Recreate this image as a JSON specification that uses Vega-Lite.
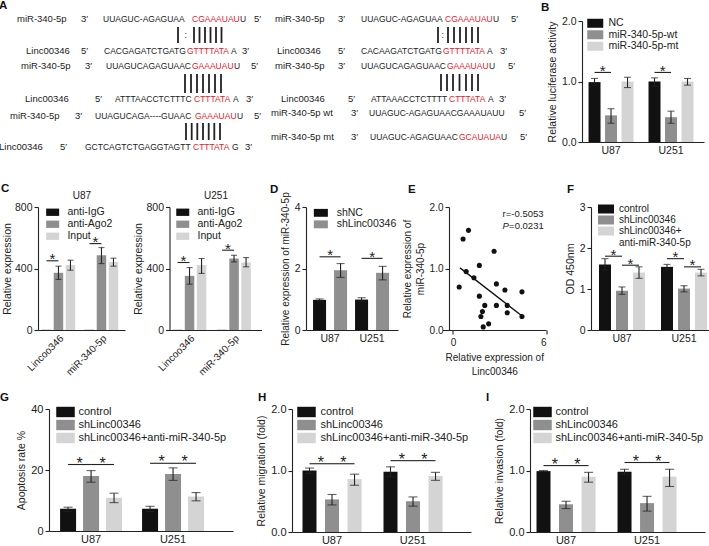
{
"$schema":"https://vega.github.io/schema/vega-lite/v6.json",
"padding":{"left":-2,"top":0,"right":0,"bottom":0},
"background":"white",
"config":{
 "font":"Liberation Sans",
 "view":{"stroke":null},
 "axis":{"labelFont":"Liberation Sans","titleFont":"Liberation Sans","labelFontSize":10.5,"titleFontSize":10.5,"titleFontWeight":"normal","labelColor":"#222222","titleColor":"#222222","domainColor":"#222222","tickColor":"#222222","domainWidth":1.1,"tickWidth":1.1,"tickSize":4,"grid":false,"labelPadding":2,"titlePadding":4,"labelOverlap":false},
 "axisX":{"ticks":false,"labelPadding":3},
 "legend":{"labelFont":"Liberation Sans","labelFontSize":10.5,"labelColor":"#222222","symbolType":"M-1.6,-0.9H1.6V0.9H-1.6Z","symbolStrokeWidth":0,"symbolOpacity":1,"rowPadding":1,"labelOffset":8,"padding":0},
 "title":{"font":"Liberation Sans","fontSize":11.5,"fontWeight":"bold","anchor":"start","frame":"group","color":"#111111","offset":4}
},
"datasets":{
 "aText":[
  {"x":19,"y":19,"t":"miR-340-5p","k":"lab"},{"x":83,"y":19,"t":"3′","k":"lab"},{"x":105,"y":19,"t":"UUAGUC-AGAGUAA","k":"seq"},{"x":194,"y":19,"t":"CGAAAUAU","k":"red"},{"x":242,"y":19,"t":"U","k":"seq"},{"x":256,"y":19,"t":"5′","k":"lab"},
  {"x":28,"y":51,"t":"Linc00346","k":"lab"},{"x":83,"y":51,"t":"5′","k":"lab"},{"x":106,"y":51,"t":"CACGAGATCTGATG","k":"seq"},{"x":189,"y":51,"t":"GTTTTATA","k":"red"},{"x":233,"y":51,"t":"A","k":"seq"},{"x":244,"y":51,"t":"3′","k":"lab"},
  {"x":23,"y":66,"t":"miR-340-5p","k":"lab"},{"x":87,"y":66,"t":"3′","k":"lab"},{"x":108,"y":66,"t":"UUAGUCAGAGUAAC","k":"seq"},{"x":194,"y":66,"t":"GAAAUAU","k":"red"},{"x":236,"y":66,"t":"U","k":"seq"},{"x":253,"y":66,"t":"5′","k":"lab"},
  {"x":27,"y":99,"t":"Linc00346","k":"lab"},{"x":97,"y":99,"t":"5′","k":"lab"},{"x":117,"y":99,"t":"ATTTAACCTCTTTC","k":"seq"},{"x":196,"y":99,"t":"CTTTATA","k":"red"},{"x":235,"y":99,"t":"A","k":"seq"},{"x":248,"y":99,"t":"3′","k":"lab"},
  {"x":12,"y":116,"t":"miR-340-5p","k":"lab"},{"x":77,"y":116,"t":"3′","k":"lab"},{"x":97,"y":116,"t":"UUAGUCAGA----GUAAC","k":"seq"},{"x":197,"y":116,"t":"GAAAUAU","k":"red"},{"x":239,"y":116,"t":"U","k":"seq"},{"x":256,"y":116,"t":"5′","k":"lab"},
  {"x":1,"y":147,"t":"Linc00346","k":"lab"},{"x":62,"y":147,"t":"5′","k":"lab"},{"x":87,"y":147,"t":"GCTCAGTCTGAGGTAGTT","k":"seq"},{"x":195,"y":147,"t":"CTTTATA","k":"red"},{"x":234,"y":147,"t":"G","k":"seq"},{"x":247,"y":147,"t":"3′","k":"lab"},
  {"x":277,"y":19,"t":"miR-340-5p","k":"lab"},{"x":340,"y":19,"t":"3′","k":"lab"},{"x":363,"y":19,"t":"UUAGUC-AGAGUAA","k":"seq"},{"x":447,"y":19,"t":"CGAAAUAU","k":"red"},{"x":495,"y":19,"t":"U","k":"seq"},{"x":513,"y":19,"t":"5′","k":"lab"},
  {"x":279,"y":51,"t":"Linc00346","k":"lab"},{"x":340,"y":51,"t":"5′","k":"lab"},{"x":363,"y":51,"t":"CACAAGATCTGATG","k":"seq"},{"x":445,"y":51,"t":"GTTTTATA","k":"red"},{"x":489,"y":51,"t":"A","k":"seq"},{"x":502,"y":51,"t":"3′","k":"lab"},
  {"x":277,"y":66,"t":"miR-340-5p","k":"lab"},{"x":340,"y":66,"t":"3′","k":"lab"},{"x":363,"y":66,"t":"UUAGUCAGAGUAAC","k":"seq"},{"x":449,"y":66,"t":"GAAAUAU","k":"red"},{"x":491,"y":66,"t":"U","k":"seq"},{"x":510,"y":66,"t":"5′","k":"lab"},
  {"x":283,"y":99,"t":"Linc00346","k":"lab"},{"x":350,"y":99,"t":"5′","k":"lab"},{"x":373,"y":99,"t":"ATTAAACCTCTTTT","k":"seq"},{"x":451,"y":99,"t":"CTTTATA","k":"red"},{"x":490,"y":99,"t":"A","k":"seq"},{"x":501,"y":99,"t":"3′","k":"lab"},
  {"x":273,"y":113,"t":"miR-340-5p wt","k":"lab"},{"x":353,"y":113,"t":"3′","k":"lab"},{"x":371,"y":113,"t":"UUAGUC-AGAGUAACGAAAUAUU","k":"seq"},{"x":521,"y":113,"t":"5′","k":"lab"},
  {"x":273,"y":137,"t":"miR-340-5p mt","k":"lab"},{"x":353,"y":137,"t":"3′","k":"lab"},{"x":372,"y":137,"t":"UUAGUC-AGAGUAAC","k":"seq"},{"x":461,"y":137,"t":"GCAUAUA","k":"red"},{"x":503,"y":137,"t":"U","k":"seq"},{"x":522,"y":137,"t":"5′","k":"lab"},
  {"x":186.5,"y":35,"t":":","k":"seq"},{"x":443.5,"y":35,"t":":","k":"seq"}
 ],
 "aBond":[
  {"x":180,"y1":27,"y2":43},{"x":196,"y1":27,"y2":43},{"x":201.5,"y1":27,"y2":43},{"x":207,"y1":27,"y2":43},{"x":212.5,"y1":27,"y2":43},{"x":218,"y1":27,"y2":43},{"x":223.5,"y1":27,"y2":43},
  {"x":440,"y1":27,"y2":43},{"x":450,"y1":27,"y2":43},{"x":456,"y1":27,"y2":43},{"x":462,"y1":27,"y2":43},{"x":468,"y1":27,"y2":43},{"x":474,"y1":27,"y2":43},{"x":480,"y1":27,"y2":43},
  {"x":187,"y1":74,"y2":93},{"x":193,"y1":74,"y2":93},{"x":199,"y1":74,"y2":93},{"x":205,"y1":74,"y2":93},{"x":211,"y1":74,"y2":93},{"x":217,"y1":74,"y2":93},{"x":223,"y1":74,"y2":93},
  {"x":443,"y1":74,"y2":91},{"x":449,"y1":74,"y2":91},{"x":455,"y1":74,"y2":91},{"x":461.5,"y1":74,"y2":91},{"x":468,"y1":74,"y2":91},{"x":474,"y1":74,"y2":91},{"x":480,"y1":74,"y2":91},
  {"x":188,"y1":123,"y2":140},{"x":193.7,"y1":123,"y2":140},{"x":199.3,"y1":123,"y2":140},{"x":205,"y1":123,"y2":140},{"x":210.7,"y1":123,"y2":140},{"x":216.3,"y1":123,"y2":140},{"x":222,"y1":123,"y2":140}
 ],
 "aLetter":[{"t":"A","x":1,"y":6}],
 "bData":[
  {"cell":"U87","group":"NC","mean":0.99,"lo":0.94,"hi":1.05},
  {"cell":"U87","group":"miR-340-5p-wt","mean":0.44,"lo":0.31,"hi":0.55},
  {"cell":"U87","group":"miR-340-5p-mt","mean":1.0,"lo":0.9,"hi":1.07},
  {"cell":"U251","group":"NC","mean":1.0,"lo":0.92,"hi":1.06},
  {"cell":"U251","group":"miR-340-5p-wt","mean":0.41,"lo":0.31,"hi":0.51},
  {"cell":"U251","group":"miR-340-5p-mt","mean":1.0,"lo":0.94,"hi":1.05}
 ],
 "bSig":[
  {"cell":"U87","group":"NC","b":"1","pos":"s","level":1.15},{"cell":"U87","group":"miR-340-5p-wt","b":"1","pos":"e","level":1.15},
  {"cell":"U251","group":"NC","b":"2","pos":"s","level":1.15},{"cell":"U251","group":"miR-340-5p-wt","b":"2","pos":"e","level":1.15}
 ],
 "cL":[
  {"cell":"Lincoo346","group":"anti-IgG","mean":1,"lo":null,"hi":null},
  {"cell":"Lincoo346","group":"anti-Ago2","mean":372,"lo":329,"hi":415},
  {"cell":"Lincoo346","group":"Input","mean":422,"lo":389,"hi":454},
  {"cell":"miR-340-5p","group":"anti-IgG","mean":1,"lo":null,"hi":null},
  {"cell":"miR-340-5p","group":"anti-Ago2","mean":486,"lo":432,"hi":536},
  {"cell":"miR-340-5p","group":"Input","mean":443,"lo":415,"hi":467}
 ],
 "cLSig":[
  {"cell":"Lincoo346","group":"anti-IgG","b":"1","pos":"s","level":450},{"cell":"Lincoo346","group":"anti-Ago2","b":"1","pos":"e","level":450},
  {"cell":"miR-340-5p","group":"anti-IgG","b":"2","pos":"s","level":562},{"cell":"miR-340-5p","group":"anti-Ago2","b":"2","pos":"e","level":562}
 ],
 "cR":[
  {"cell":"Lincoo346","group":"anti-IgG","mean":1,"lo":null,"hi":null},
  {"cell":"Lincoo346","group":"anti-Ago2","mean":352,"lo":298,"hi":406},
  {"cell":"Lincoo346","group":"Input","mean":422,"lo":368,"hi":465},
  {"cell":"miR-340-5p","group":"anti-IgG","mean":1,"lo":null,"hi":null},
  {"cell":"miR-340-5p","group":"anti-Ago2","mean":465,"lo":443,"hi":486},
  {"cell":"miR-340-5p","group":"Input","mean":439,"lo":411,"hi":471}
 ],
 "cRSig":[
  {"cell":"Lincoo346","group":"anti-IgG","b":"1","pos":"s","level":439},{"cell":"Lincoo346","group":"anti-Ago2","b":"1","pos":"e","level":439},
  {"cell":"miR-340-5p","group":"anti-IgG","b":"2","pos":"s","level":519},{"cell":"miR-340-5p","group":"anti-Ago2","b":"2","pos":"e","level":519}
 ],
 "dData":[
  {"cell":"U87","group":"shNC","mean":0.98,"lo":0.95,"hi":1.01},
  {"cell":"U87","group":"shLinc00346","mean":1.94,"lo":1.71,"hi":2.16},
  {"cell":"U251","group":"shNC","mean":0.99,"lo":0.94,"hi":1.05},
  {"cell":"U251","group":"shLinc00346","mean":1.86,"lo":1.63,"hi":2.07}
 ],
 "dSig":[
  {"cell":"U87","group":"shNC","b":"1","pos":"s","level":2.38},{"cell":"U87","group":"shLinc00346","b":"1","pos":"e","level":2.38},
  {"cell":"U251","group":"shNC","b":"2","pos":"s","level":2.33},{"cell":"U251","group":"shLinc00346","b":"2","pos":"e","level":2.33}
 ],
 "ePts":[
  {"x":0.4,"y":0.7},{"x":0.65,"y":1.48},{"x":1.0,"y":1.62},{"x":0.85,"y":0.95},{"x":1.35,"y":0.85},{"x":1.7,"y":1.05},{"x":1.7,"y":0.55},{"x":2.65,"y":1.28},{"x":2.8,"y":0.75},{"x":2.05,"y":0.4},{"x":2.8,"y":0.4},{"x":3.35,"y":0.65},{"x":3.5,"y":0.4},{"x":4.45,"y":0.62},{"x":1.9,"y":0.3},{"x":3.5,"y":0.28},{"x":4.45,"y":0.22},{"x":1.8,"y":0.22},{"x":2.3,"y":0.1},{"x":1.95,"y":0.05}
 ],
 "eLine":[{"x":0.45,"y":1.01},{"x":4.5,"y":0.22}],
 "eTxt":[{"x":3.2,"y":1.89,"t":"r=-0.5053","s":"n"},{"x":3.62,"y":1.69,"t":"=0.0231","s":"n"},{"x":3.2,"y":1.69,"t":"P","s":"i"}],
 "fData":[
  {"cell":"U87","group":"control","mean":1.6,"lo":1.46,"hi":1.74},
  {"cell":"U87","group":"shLinc00346","mean":0.96,"lo":0.87,"hi":1.05},
  {"cell":"U87","group":"shLinc00346+anti-miR-340-5p","mean":1.4,"lo":1.26,"hi":1.54},
  {"cell":"U251","group":"control","mean":1.54,"lo":1.48,"hi":1.6},
  {"cell":"U251","group":"shLinc00346","mean":1.01,"lo":0.93,"hi":1.08},
  {"cell":"U251","group":"shLinc00346+anti-miR-340-5p","mean":1.4,"lo":1.32,"hi":1.48}
 ],
 "fSig":[
  {"cell":"U87","group":"control","b":"1","pos":"s","level":1.8},{"cell":"U87","group":"shLinc00346","b":"1","pos":"e","level":1.8},
  {"cell":"U87","group":"shLinc00346","b":"2","pos":"s","level":1.58},{"cell":"U87","group":"shLinc00346+anti-miR-340-5p","b":"2","pos":"e","level":1.58},
  {"cell":"U251","group":"control","b":"3","pos":"s","level":1.74},{"cell":"U251","group":"shLinc00346","b":"3","pos":"e","level":1.74},
  {"cell":"U251","group":"shLinc00346","b":"4","pos":"s","level":1.54},{"cell":"U251","group":"shLinc00346+anti-miR-340-5p","b":"4","pos":"e","level":1.54}
 ],
 "gData":[
  {"cell":"U87","group":"control","mean":7.3,"lo":6.5,"hi":7.8},
  {"cell":"U87","group":"shLinc00346","mean":18.0,"lo":16.0,"hi":19.8},
  {"cell":"U87","group":"shLinc00346+anti-miR-340-5p","mean":10.9,"lo":9.3,"hi":12.4},
  {"cell":"U251","group":"control","mean":7.3,"lo":6.4,"hi":8.1},
  {"cell":"U251","group":"shLinc00346","mean":18.7,"lo":16.6,"hi":20.7},
  {"cell":"U251","group":"shLinc00346+anti-miR-340-5p","mean":11.3,"lo":9.9,"hi":12.6}
 ],
 "gSig":[
  {"cell":"U87","group":"control","b":"1","pos":"s","level":21.8},{"cell":"U87","group":"shLinc00346","b":"1","pos":"e","level":21.8},
  {"cell":"U87","group":"shLinc00346","b":"2","pos":"s","level":21.8},{"cell":"U87","group":"shLinc00346+anti-miR-340-5p","b":"2","pos":"e","level":21.8},
  {"cell":"U251","group":"control","b":"3","pos":"s","level":22.2},{"cell":"U251","group":"shLinc00346","b":"3","pos":"e","level":22.2},
  {"cell":"U251","group":"shLinc00346","b":"4","pos":"s","level":22.2},{"cell":"U251","group":"shLinc00346+anti-miR-340-5p","b":"4","pos":"e","level":22.2}
 ],
 "hData":[
  {"cell":"U87","group":"control","mean":1.0,"lo":0.95,"hi":1.04},
  {"cell":"U87","group":"shLinc00346","mean":0.53,"lo":0.44,"hi":0.61},
  {"cell":"U87","group":"shLinc00346+anti-miR-340-5p","mean":0.86,"lo":0.76,"hi":0.94},
  {"cell":"U251","group":"control","mean":0.98,"lo":0.9,"hi":1.06},
  {"cell":"U251","group":"shLinc00346","mean":0.5,"lo":0.42,"hi":0.57},
  {"cell":"U251","group":"shLinc00346+anti-miR-340-5p","mean":0.91,"lo":0.84,"hi":0.97}
 ],
 "hSig":[
  {"cell":"U87","group":"control","b":"1","pos":"s","level":1.11},{"cell":"U87","group":"shLinc00346","b":"1","pos":"e","level":1.11},
  {"cell":"U87","group":"shLinc00346","b":"2","pos":"s","level":1.11},{"cell":"U87","group":"shLinc00346+anti-miR-340-5p","b":"2","pos":"e","level":1.11},
  {"cell":"U251","group":"control","b":"3","pos":"s","level":1.16},{"cell":"U251","group":"shLinc00346","b":"3","pos":"e","level":1.16},
  {"cell":"U251","group":"shLinc00346","b":"4","pos":"s","level":1.16},{"cell":"U251","group":"shLinc00346+anti-miR-340-5p","b":"4","pos":"e","level":1.16}
 ],
 "iData":[
  {"cell":"U87","group":"control","mean":0.99,"lo":0.98,"hi":1.0},
  {"cell":"U87","group":"shLinc00346","mean":0.45,"lo":0.38,"hi":0.5},
  {"cell":"U87","group":"shLinc00346+anti-miR-340-5p","mean":0.9,"lo":0.81,"hi":0.97},
  {"cell":"U251","group":"control","mean":0.98,"lo":0.94,"hi":1.02},
  {"cell":"U251","group":"shLinc00346","mean":0.47,"lo":0.34,"hi":0.58},
  {"cell":"U251","group":"shLinc00346+anti-miR-340-5p","mean":0.9,"lo":0.74,"hi":1.02}
 ],
 "iSig":[
  {"cell":"U87","group":"control","b":"1","pos":"s","level":1.08},{"cell":"U87","group":"shLinc00346","b":"1","pos":"e","level":1.08},
  {"cell":"U87","group":"shLinc00346","b":"2","pos":"s","level":1.08},{"cell":"U87","group":"shLinc00346+anti-miR-340-5p","b":"2","pos":"e","level":1.08},
  {"cell":"U251","group":"control","b":"3","pos":"s","level":1.13},{"cell":"U251","group":"shLinc00346","b":"3","pos":"e","level":1.13},
  {"cell":"U251","group":"shLinc00346","b":"4","pos":"s","level":1.13},{"cell":"U251","group":"shLinc00346+anti-miR-340-5p","b":"4","pos":"e","level":1.13}
 ],
 "spacer":[{"a":1}]
},
"resolve":{"scale":{"color":"independent","xOffset":"independent"},"legend":{"color":"independent"}},
"spacing":26,
"vconcat":[
 {"hconcat":[
  {"width":530,"height":121,
   "layer":[
    {"data":{"name":"aText"},"transform":[{"filter":"datum.k=='lab'"}],
     "mark":{"type":"text","align":"left","baseline":"middle","fontSize":9.5,"color":"#222222"},
     "encoding":{"x":{"field":"x","type":"quantitative","scale":{"domain":[0,530],"nice":false,"zero":false},"axis":null},
                 "y":{"field":"y","type":"quantitative","scale":{"domain":[21,142],"nice":false,"zero":false,"reverse":true},"axis":null},
                 "text":{"field":"t"}}},
    {"data":{"name":"aText"},"transform":[{"filter":"datum.k!='lab'"}],
     "mark":{"type":"text","align":"left","baseline":"middle","fontSize":8.5},
     "encoding":{"x":{"field":"x","type":"quantitative","axis":null},"y":{"field":"y","type":"quantitative","axis":null},"text":{"field":"t"},
                 "color":{"field":"k","type":"nominal","scale":{"domain":["seq","red"],"range":["#222222","#e8202a"]},"legend":null}}},
    {"data":{"name":"aBond"},"mark":{"type":"rule","strokeWidth":1.8,"color":"#222222"},
     "encoding":{"x":{"field":"x","type":"quantitative","axis":null},"y":{"field":"y1","type":"quantitative","axis":null},"y2":{"field":"y2"}}},
    {"data":{"name":"aLetter"},"mark":{"type":"text","align":"left","baseline":"middle","fontSize":11.5,"fontWeight":"bold","color":"#111111"},
     "encoding":{"x":{"field":"x","type":"quantitative","axis":null},"y":{"field":"y","type":"quantitative","axis":null},"text":{"field":"t"}}}
   ]},
  {"width":122,"height":121,
   "title":{"text":"B","dx":-41,"dy":1},
   "layer":[
    {"data":{"name":"bData"},"mark":{"type":"bar"},
     "encoding":{
      "x":{"field":"cell","type":"nominal","scale":{"domain":["U87","U251"],"paddingInner":0.14,"paddingOuter":0.087,"align":0.31},"axis":{"title":null,"labelAngle":0}},
      "xOffset":{"field":"group","type":"nominal","scale":{"domain":["NC","miR-340-5p-wt","miR-340-5p-mt"],"paddingInner":0.273,"paddingOuter":0.2}},
      "y":{"field":"mean","type":"quantitative","scale":{"domain":[0,2],"nice":false,"zero":false},"axis":{"title":"Relative luciferase activity","values":[0,0.5,1,1.5,2],"format":".1f"}},
      "color":{"field":"group","type":"nominal","scale":{"domain":["NC","miR-340-5p-wt","miR-340-5p-mt"],"range":["#111111","#8f8f8f","#d4d4d4"]},"legend":{"title":null,"orient":"none","legendX":8,"legendY":-3,"symbolSize":100,"rowPadding":0.5,"labelOffset":8}}}},
    {"data":{"name":"bData"},"mark":{"type":"rule","color":"#222222","strokeWidth":1.1},
     "encoding":{"x":{"field":"cell","type":"nominal"},"xOffset":{"field":"group","type":"nominal"},"y":{"field":"lo","type":"quantitative"},"y2":{"field":"hi"}}},
    {"data":{"name":"bData"},"mark":{"type":"tick","orient":"horizontal","color":"#222222","thickness":1.1,"size":7},
     "encoding":{"x":{"field":"cell","type":"nominal"},"xOffset":{"field":"group","type":"nominal"},"y":{"field":"lo","type":"quantitative"}}},
    {"data":{"name":"bData"},"mark":{"type":"tick","orient":"horizontal","color":"#222222","thickness":1.1,"size":7},
     "encoding":{"x":{"field":"cell","type":"nominal"},"xOffset":{"field":"group","type":"nominal"},"y":{"field":"hi","type":"quantitative"}}},
    {"data":{"name":"bSig"},"mark":{"type":"line","color":"#222222","strokeWidth":1.1},
     "encoding":{"x":{"field":"cell","type":"nominal"},"xOffset":{"field":"group","type":"nominal"},"y":{"field":"level","type":"quantitative"},"detail":{"field":"b"}}},
    {"data":{"name":"bSig"},"transform":[{"filter":"datum.pos=='s'"}],"mark":{"type":"text","text":"*","fontSize":15,"baseline":"alphabetic","dy":3.5,"dx":8.25,"color":"#222222"},
     "encoding":{"x":{"field":"cell","type":"nominal"},"xOffset":{"field":"group","type":"nominal"},"y":{"field":"level","type":"quantitative"}}}
   ]}
 ],"spacing":54,"bounds":"flush","resolve":{"scale":{"color":"independent","xOffset":"independent"},"legend":{"color":"independent"}}},
 {"vconcat":[
  {"hconcat":[
   {"width":1,"height":1,"data":{"name":"spacer"},"mark":{"type":"text","text":""},"encoding":{}},
   {"hconcat":[
    {"width":87,"height":123,
     "title":{"text":"C","dx":-37,"dy":8},
     "resolve":{"axis":{"x":"independent"}},
     "layer":[
      {"data":{"name":"cL"},"mark":{"type":"bar"},
       "encoding":{
        "x":{"field":"cell","type":"nominal","scale":{"domain":["Lincoo346","miR-340-5p"],"paddingInner":0.165,"paddingOuter":0.094,"align":0.31},"axis":{"title":null,"labelAngle":-45,"labelFontSize":10}},
        "xOffset":{"field":"group","type":"nominal","scale":{"domain":["anti-IgG","anti-Ago2","Input"],"paddingInner":0.21,"paddingOuter":0.1}},
        "y":{"field":"mean","type":"quantitative","scale":{"domain":[0,800],"nice":false,"zero":false},"axis":{"title":"Relative expression","titlePadding":2,"values":[0,200,400,600,800]}},
        "color":{"field":"group","type":"nominal","scale":{"domain":["anti-IgG","anti-Ago2","Input"],"range":["#111111","#8f8f8f","#d4d4d4"]},"legend":{"title":null,"orient":"none","legendX":9.4,"legendY":0,"symbolSize":66,"rowPadding":1,"labelOffset":9.5}}}},
      {"data":{"name":"cL"},"mark":{"type":"rule","color":"#222222","strokeWidth":1.1},
       "encoding":{"x":{"field":"cell","type":"nominal","axis":{"orient":"top","title":"U87","labels":false,"ticks":false,"domain":false,"titlePadding":7,"titleFontSize":10}},"xOffset":{"field":"group","type":"nominal"},"y":{"field":"lo","type":"quantitative"},"y2":{"field":"hi"}}},
      {"data":{"name":"cL"},"mark":{"type":"tick","orient":"horizontal","color":"#222222","thickness":1.1,"size":6},
       "encoding":{"x":{"field":"cell","type":"nominal","axis":null},"xOffset":{"field":"group","type":"nominal"},"y":{"field":"lo","type":"quantitative"}}},
      {"data":{"name":"cL"},"mark":{"type":"tick","orient":"horizontal","color":"#222222","thickness":1.1,"size":6},
       "encoding":{"x":{"field":"cell","type":"nominal","axis":null},"xOffset":{"field":"group","type":"nominal"},"y":{"field":"hi","type":"quantitative"}}},
      {"data":{"name":"cLSig"},"mark":{"type":"line","color":"#222222","strokeWidth":1.1},
       "encoding":{"x":{"field":"cell","type":"nominal","axis":null},"xOffset":{"field":"group","type":"nominal"},"y":{"field":"level","type":"quantitative"},"detail":{"field":"b"}}},
      {"data":{"name":"cLSig"},"transform":[{"filter":"datum.pos=='s'"}],"mark":{"type":"text","text":"*","fontSize":15,"baseline":"alphabetic","dy":3.5,"dx":6,"color":"#222222"},
       "encoding":{"x":{"field":"cell","type":"nominal","axis":null},"xOffset":{"field":"group","type":"nominal"},"y":{"field":"level","type":"quantitative"}}}
     ]},
    {"width":92,"height":123,
     "resolve":{"axis":{"x":"independent"}},
     "layer":[
      {"data":{"name":"cR"},"mark":{"type":"bar"},
       "encoding":{
        "x":{"field":"cell","type":"nominal","scale":{"domain":["Lincoo346","miR-340-5p"],"paddingInner":0.193,"paddingOuter":0.13,"align":0.18},"axis":{"title":null,"labelAngle":-45,"labelFontSize":10}},
        "xOffset":{"field":"group","type":"nominal","scale":{"domain":["anti-IgG","anti-Ago2","Input"],"paddingInner":0.21,"paddingOuter":0.1}},
        "y":{"field":"mean","type":"quantitative","scale":{"domain":[0,800],"nice":false,"zero":false},"axis":{"title":"Relative expression","titlePadding":2,"values":[0,200,400,600,800]}},
        "color":{"field":"group","type":"nominal","scale":{"domain":["anti-IgG","anti-Ago2","Input"],"range":["#111111","#8f8f8f","#d4d4d4"]},"legend":{"title":null,"orient":"none","legendX":8,"legendY":0,"symbolSize":66,"rowPadding":1,"labelOffset":9.5}}}},
      {"data":{"name":"cR"},"mark":{"type":"rule","color":"#222222","strokeWidth":1.1},
       "encoding":{"x":{"field":"cell","type":"nominal","axis":{"orient":"top","title":"U251","labels":false,"ticks":false,"domain":false,"titlePadding":7,"titleFontSize":10}},"xOffset":{"field":"group","type":"nominal"},"y":{"field":"lo","type":"quantitative"},"y2":{"field":"hi"}}},
      {"data":{"name":"cR"},"mark":{"type":"tick","orient":"horizontal","color":"#222222","thickness":1.1,"size":6},
       "encoding":{"x":{"field":"cell","type":"nominal","axis":null},"xOffset":{"field":"group","type":"nominal"},"y":{"field":"lo","type":"quantitative"}}},
      {"data":{"name":"cR"},"mark":{"type":"tick","orient":"horizontal","color":"#222222","thickness":1.1,"size":6},
       "encoding":{"x":{"field":"cell","type":"nominal","axis":null},"xOffset":{"field":"group","type":"nominal"},"y":{"field":"hi","type":"quantitative"}}},
      {"data":{"name":"cRSig"},"mark":{"type":"line","color":"#222222","strokeWidth":1.1},
       "encoding":{"x":{"field":"cell","type":"nominal","axis":null},"xOffset":{"field":"group","type":"nominal"},"y":{"field":"level","type":"quantitative"},"detail":{"field":"b"}}},
      {"data":{"name":"cRSig"},"transform":[{"filter":"datum.pos=='s'"}],"mark":{"type":"text","text":"*","fontSize":15,"baseline":"alphabetic","dy":3.5,"dx":6,"color":"#222222"},
       "encoding":{"x":{"field":"cell","type":"nominal","axis":null},"xOffset":{"field":"group","type":"nominal"},"y":{"field":"level","type":"quantitative"}}}
     ]},
    {"width":92,"height":123,
     "title":{"text":"D","dx":-36,"dy":8},
     "layer":[
      {"data":{"name":"dData"},"mark":{"type":"bar"},
       "encoding":{
        "x":{"field":"cell","type":"nominal","scale":{"domain":["U87","U251"],"paddingInner":0.09,"paddingOuter":0.14,"align":0.42},"axis":{"title":null,"labelAngle":0}},
        "xOffset":{"field":"group","type":"nominal","scale":{"domain":["shNC","shLinc00346"],"paddingInner":0.38,"paddingOuter":0.1}},
        "y":{"field":"mean","type":"quantitative","scale":{"domain":[0,4],"nice":false,"zero":false},"axis":{"title":"Relative expression of miR-340-5p","titleFontSize":10,"values":[0,1,2,3,4]}},
        "color":{"field":"group","type":"nominal","scale":{"domain":["shNC","shLinc00346"],"range":["#111111","#8f8f8f"]},"legend":{"title":null,"orient":"none","legendX":9.6,"legendY":0.6,"symbolSize":77,"rowPadding":0.5,"labelOffset":10.6}}}},
      {"data":{"name":"dData"},"mark":{"type":"rule","color":"#222222","strokeWidth":1.1},
       "encoding":{"x":{"field":"cell","type":"nominal"},"xOffset":{"field":"group","type":"nominal"},"y":{"field":"lo","type":"quantitative"},"y2":{"field":"hi"}}},
      {"data":{"name":"dData"},"mark":{"type":"tick","orient":"horizontal","color":"#222222","thickness":1.1,"size":8},
       "encoding":{"x":{"field":"cell","type":"nominal"},"xOffset":{"field":"group","type":"nominal"},"y":{"field":"lo","type":"quantitative"}}},
      {"data":{"name":"dData"},"mark":{"type":"tick","orient":"horizontal","color":"#222222","thickness":1.1,"size":8},
       "encoding":{"x":{"field":"cell","type":"nominal"},"xOffset":{"field":"group","type":"nominal"},"y":{"field":"hi","type":"quantitative"}}},
      {"data":{"name":"dSig"},"mark":{"type":"line","color":"#222222","strokeWidth":1.1},
       "encoding":{"x":{"field":"cell","type":"nominal"},"xOffset":{"field":"group","type":"nominal"},"y":{"field":"level","type":"quantitative"},"detail":{"field":"b"}}},
      {"data":{"name":"dSig"},"transform":[{"filter":"datum.pos=='s'"}],"mark":{"type":"text","text":"*","fontSize":15,"baseline":"alphabetic","dy":3.5,"dx":10.5,"color":"#222222"},
       "encoding":{"x":{"field":"cell","type":"nominal"},"xOffset":{"field":"group","type":"nominal"},"y":{"field":"level","type":"quantitative"}}}
     ]},
    {"width":103.5,"height":123,
     "title":{"text":"E","dx":-34.5,"dy":-3},
     "layer":[
      {"data":{"name":"ePts"},"mark":{"type":"point","filled":true,"color":"#111111","size":26,"opacity":1},
       "encoding":{
        "x":{"field":"x","type":"quantitative","scale":{"domain":[-0.677,6],"nice":false,"zero":false},"axis":{"values":[0,2,4,6],"ticks":true,"labelFontSize":10,"title":["Relative expression of","Linc00346"],"titleFontSize":10,"titlePadding":5,"titleLineHeight":14}},
        "y":{"field":"y","type":"quantitative","scale":{"domain":[0,2],"nice":false,"zero":false},"axis":{"values":[0,0.5,1,1.5,2],"format":".1f","offset":-6.5,"labelFontSize":10,"title":["Relative expression of","miR-340-5p"],"titleFontSize":10,"titleLineHeight":13}}}},
      {"data":{"name":"eLine"},"mark":{"type":"line","color":"#111111","strokeWidth":1.3},
       "encoding":{"x":{"field":"x","type":"quantitative"},"y":{"field":"y","type":"quantitative"}}},
      {"data":{"name":"eTxt"},"transform":[{"filter":"datum.s=='n'"}],"mark":{"type":"text","align":"left","baseline":"middle","fontSize":9.5,"color":"#222222"},
       "encoding":{"x":{"field":"x","type":"quantitative"},"y":{"field":"y","type":"quantitative"},"text":{"field":"t"}}},
      {"data":{"name":"eTxt"},"transform":[{"filter":"datum.s=='i'"}],"mark":{"type":"text","align":"left","baseline":"middle","fontSize":9.5,"fontStyle":"italic","color":"#222222"},
       "encoding":{"x":{"field":"x","type":"quantitative"},"y":{"field":"y","type":"quantitative"},"text":{"field":"t"}}}
     ]},
    {"width":124,"height":123,
     "title":{"text":"F","dx":-24,"dy":-3},
     "layer":[
      {"data":{"name":"fData"},"mark":{"type":"bar"},
       "encoding":{
        "x":{"field":"cell","type":"nominal","scale":{"domain":["U87","U251"],"paddingInner":0.148,"paddingOuter":0.074,"align":0.5},"axis":{"title":null,"labelAngle":0}},
        "xOffset":{"field":"group","type":"nominal","scale":{"domain":["control","shLinc00346","shLinc00346+anti-miR-340-5p"],"paddingInner":0.294,"paddingOuter":0.2}},
        "y":{"field":"mean","type":"quantitative","scale":{"domain":[0,3],"nice":false,"zero":false},"axis":{"title":"OD 450nm","values":[0,1,2,3]}},
        "color":{"field":"group","type":"nominal","scale":{"domain":["control","shLinc00346","shLinc00346+anti-miR-340-5p"],"range":["#111111","#8f8f8f","#d4d4d4"]},"legend":{"title":null,"orient":"none","legendX":10,"legendY":-3,"symbolSize":100,"rowPadding":1,"labelOffset":8,"labelFontSize":10,"labelExpr":"datum.label == 'shLinc00346+anti-miR-340-5p' ? ['shLinc00346+', 'anti-miR-340-5p'] : datum.label"}}}},
      {"data":{"name":"fData"},"mark":{"type":"rule","color":"#222222","strokeWidth":1.1},
       "encoding":{"x":{"field":"cell","type":"nominal"},"xOffset":{"field":"group","type":"nominal"},"y":{"field":"lo","type":"quantitative"},"y2":{"field":"hi"}}},
      {"data":{"name":"fData"},"mark":{"type":"tick","orient":"horizontal","color":"#222222","thickness":1.1,"size":7},
       "encoding":{"x":{"field":"cell","type":"nominal"},"xOffset":{"field":"group","type":"nominal"},"y":{"field":"lo","type":"quantitative"}}},
      {"data":{"name":"fData"},"mark":{"type":"tick","orient":"horizontal","color":"#222222","thickness":1.1,"size":7},
       "encoding":{"x":{"field":"cell","type":"nominal"},"xOffset":{"field":"group","type":"nominal"},"y":{"field":"hi","type":"quantitative"}}},
      {"data":{"name":"fSig"},"mark":{"type":"line","color":"#222222","strokeWidth":1.1},
       "encoding":{"x":{"field":"cell","type":"nominal"},"xOffset":{"field":"group","type":"nominal"},"y":{"field":"level","type":"quantitative"},"detail":{"field":"b"}}},
      {"data":{"name":"fSig"},"transform":[{"filter":"datum.pos=='s'"}],"mark":{"type":"text","text":"*","fontSize":15,"baseline":"alphabetic","dy":3.5,"dx":8.5,"color":"#222222"},
       "encoding":{"x":{"field":"cell","type":"nominal"},"xOffset":{"field":"group","type":"nominal"},"y":{"field":"level","type":"quantitative"}}}
     ]}
   ],"spacing":44.5,"bounds":"flush","resolve":{"scale":{"color":"independent","xOffset":"independent"},"legend":{"color":"independent"}}}
  ],"spacing":39,"bounds":"flush","resolve":{"scale":{"color":"independent","xOffset":"independent"},"legend":{"color":"independent"}}},
  {"hconcat":[
   {"width":1,"height":1,"data":{"name":"spacer"},"mark":{"type":"text","text":""},"encoding":{}},
   {"hconcat":[
    {"width":184,"height":122,
     "title":{"text":"G","dx":-49,"dy":4},
     "layer":[
      {"data":{"name":"gData"},"mark":{"type":"bar"},
       "encoding":{
        "x":{"field":"cell","type":"nominal","scale":{"domain":["U87","U251"],"paddingInner":0.132,"paddingOuter":0.188,"align":0.21},"axis":{"title":null,"labelAngle":0,"labelFontSize":11,"labelPadding":2}},
        "xOffset":{"field":"group","type":"nominal","scale":{"domain":["control","shLinc00346","shLinc00346+anti-miR-340-5p"],"paddingInner":0.304,"paddingOuter":0.2}},
        "y":{"field":"mean","type":"quantitative","scale":{"domain":[0,40],"nice":false,"zero":false},"axis":{"title":"Apoptosis rate %","values":[0,10,20,30,40],"labelFontSize":11}},
        "color":{"field":"group","type":"nominal","scale":{"domain":["control","shLinc00346","shLinc00346+anti-miR-340-5p"],"range":["#111111","#8f8f8f","#d4d4d4"]},"legend":{"title":null,"orient":"none","legendX":10.5,"legendY":-3,"symbolSize":134,"rowPadding":1,"labelFontSize":11,"labelOffset":7}}}},
      {"data":{"name":"gData"},"mark":{"type":"rule","color":"#222222","strokeWidth":1.1},
       "encoding":{"x":{"field":"cell","type":"nominal"},"xOffset":{"field":"group","type":"nominal"},"y":{"field":"lo","type":"quantitative"},"y2":{"field":"hi"}}},
      {"data":{"name":"gData"},"mark":{"type":"tick","orient":"horizontal","color":"#222222","thickness":1.1,"size":9},
       "encoding":{"x":{"field":"cell","type":"nominal"},"xOffset":{"field":"group","type":"nominal"},"y":{"field":"lo","type":"quantitative"}}},
      {"data":{"name":"gData"},"mark":{"type":"tick","orient":"horizontal","color":"#222222","thickness":1.1,"size":9},
       "encoding":{"x":{"field":"cell","type":"nominal"},"xOffset":{"field":"group","type":"nominal"},"y":{"field":"hi","type":"quantitative"}}},
      {"data":{"name":"gSig"},"mark":{"type":"line","color":"#222222","strokeWidth":1.1},
       "encoding":{"x":{"field":"cell","type":"nominal"},"xOffset":{"field":"group","type":"nominal"},"y":{"field":"level","type":"quantitative"},"detail":{"field":"b"}}},
      {"data":{"name":"gSig"},"transform":[{"filter":"datum.pos=='s'"}],"mark":{"type":"text","text":"*","fontSize":16,"baseline":"alphabetic","dy":4,"dx":11.5,"color":"#222222"},
       "encoding":{"x":{"field":"cell","type":"nominal"},"xOffset":{"field":"group","type":"nominal"},"y":{"field":"level","type":"quantitative"}}}
     ]},
    {"width":179,"height":123,
     "title":{"text":"H","dx":-34,"dy":4},
     "layer":[
      {"data":{"name":"hData"},"mark":{"type":"bar"},
       "encoding":{
        "x":{"field":"cell","type":"nominal","scale":{"domain":["U87","U251"],"paddingInner":0.16,"paddingOuter":0.185,"align":0.2},"axis":{"title":null,"labelAngle":0,"labelFontSize":11,"labelPadding":2}},
        "xOffset":{"field":"group","type":"nominal","scale":{"domain":["control","shLinc00346","shLinc00346+anti-miR-340-5p"],"paddingInner":0.378,"paddingOuter":0.2}},
        "y":{"field":"mean","type":"quantitative","scale":{"domain":[0,2],"nice":false,"zero":false},"axis":{"title":"Relative migration (fold)","values":[0,0.5,1,1.5,2],"format":".1f","labelFontSize":11}},
        "color":{"field":"group","type":"nominal","scale":{"domain":["control","shLinc00346","shLinc00346+anti-miR-340-5p"],"range":["#111111","#8f8f8f","#d4d4d4"]},"legend":{"title":null,"orient":"none","legendX":8.5,"legendY":-3,"symbolSize":134,"rowPadding":1,"labelFontSize":11,"labelOffset":8}}}},
      {"data":{"name":"hData"},"mark":{"type":"rule","color":"#222222","strokeWidth":1.1},
       "encoding":{"x":{"field":"cell","type":"nominal"},"xOffset":{"field":"group","type":"nominal"},"y":{"field":"lo","type":"quantitative"},"y2":{"field":"hi"}}},
      {"data":{"name":"hData"},"mark":{"type":"tick","orient":"horizontal","color":"#222222","thickness":1.1,"size":9},
       "encoding":{"x":{"field":"cell","type":"nominal"},"xOffset":{"field":"group","type":"nominal"},"y":{"field":"lo","type":"quantitative"}}},
      {"data":{"name":"hData"},"mark":{"type":"tick","orient":"horizontal","color":"#222222","thickness":1.1,"size":9},
       "encoding":{"x":{"field":"cell","type":"nominal"},"xOffset":{"field":"group","type":"nominal"},"y":{"field":"hi","type":"quantitative"}}},
      {"data":{"name":"hSig"},"mark":{"type":"line","color":"#222222","strokeWidth":1.1},
       "encoding":{"x":{"field":"cell","type":"nominal"},"xOffset":{"field":"group","type":"nominal"},"y":{"field":"level","type":"quantitative"},"detail":{"field":"b"}}},
      {"data":{"name":"hSig"},"transform":[{"filter":"datum.pos=='s'"}],"mark":{"type":"text","text":"*","fontSize":16,"baseline":"alphabetic","dy":4,"dx":11.25,"color":"#222222"},
       "encoding":{"x":{"field":"cell","type":"nominal"},"xOffset":{"field":"group","type":"nominal"},"y":{"field":"level","type":"quantitative"}}}
     ]},
    {"width":175,"height":123,
     "title":{"text":"I","dx":-44,"dy":4},
     "layer":[
      {"data":{"name":"iData"},"mark":{"type":"bar"},
       "encoding":{
        "x":{"field":"cell","type":"nominal","scale":{"domain":["U87","U251"],"paddingInner":0.16,"paddingOuter":0.16,"align":0.077},"axis":{"title":null,"labelAngle":0,"labelFontSize":11,"labelPadding":2}},
        "xOffset":{"field":"group","type":"nominal","scale":{"domain":["control","shLinc00346","shLinc00346+anti-miR-340-5p"],"paddingInner":0.378,"paddingOuter":0.2}},
        "y":{"field":"mean","type":"quantitative","scale":{"domain":[0,2],"nice":false,"zero":false},"axis":{"title":"Relative invasion (fold)","values":[0,0.5,1,1.5,2],"format":".1f","labelFontSize":11}},
        "color":{"field":"group","type":"nominal","scale":{"domain":["control","shLinc00346","shLinc00346+anti-miR-340-5p"],"range":["#111111","#8f8f8f","#d4d4d4"]},"legend":{"title":null,"orient":"none","legendX":6.5,"legendY":-3,"symbolSize":134,"rowPadding":1,"labelFontSize":11,"labelOffset":7}}}},
      {"data":{"name":"iData"},"mark":{"type":"rule","color":"#222222","strokeWidth":1.1},
       "encoding":{"x":{"field":"cell","type":"nominal"},"xOffset":{"field":"group","type":"nominal"},"y":{"field":"lo","type":"quantitative"},"y2":{"field":"hi"}}},
      {"data":{"name":"iData"},"mark":{"type":"tick","orient":"horizontal","color":"#222222","thickness":1.1,"size":9},
       "encoding":{"x":{"field":"cell","type":"nominal"},"xOffset":{"field":"group","type":"nominal"},"y":{"field":"lo","type":"quantitative"}}},
      {"data":{"name":"iData"},"mark":{"type":"tick","orient":"horizontal","color":"#222222","thickness":1.1,"size":9},
       "encoding":{"x":{"field":"cell","type":"nominal"},"xOffset":{"field":"group","type":"nominal"},"y":{"field":"hi","type":"quantitative"}}},
      {"data":{"name":"iSig"},"mark":{"type":"line","color":"#222222","strokeWidth":1.1},
       "encoding":{"x":{"field":"cell","type":"nominal"},"xOffset":{"field":"group","type":"nominal"},"y":{"field":"level","type":"quantitative"},"detail":{"field":"b"}}},
      {"data":{"name":"iSig"},"transform":[{"filter":"datum.pos=='s'"}],"mark":{"type":"text","text":"*","fontSize":16,"baseline":"alphabetic","dy":4,"dx":11.25,"color":"#222222"},
       "encoding":{"x":{"field":"cell","type":"nominal"},"xOffset":{"field":"group","type":"nominal"},"y":{"field":"level","type":"quantitative"}}}
     ]}
   ],"spacing":59,"bounds":"flush","resolve":{"scale":{"color":"independent","xOffset":"independent"},"legend":{"color":"independent"}}}
  ],"spacing":50,"bounds":"flush","resolve":{"scale":{"color":"independent","xOffset":"independent"},"legend":{"color":"independent"}}}
 ],"spacing":13,"resolve":{"scale":{"color":"independent","xOffset":"independent"},"legend":{"color":"independent"}}}
]
}
